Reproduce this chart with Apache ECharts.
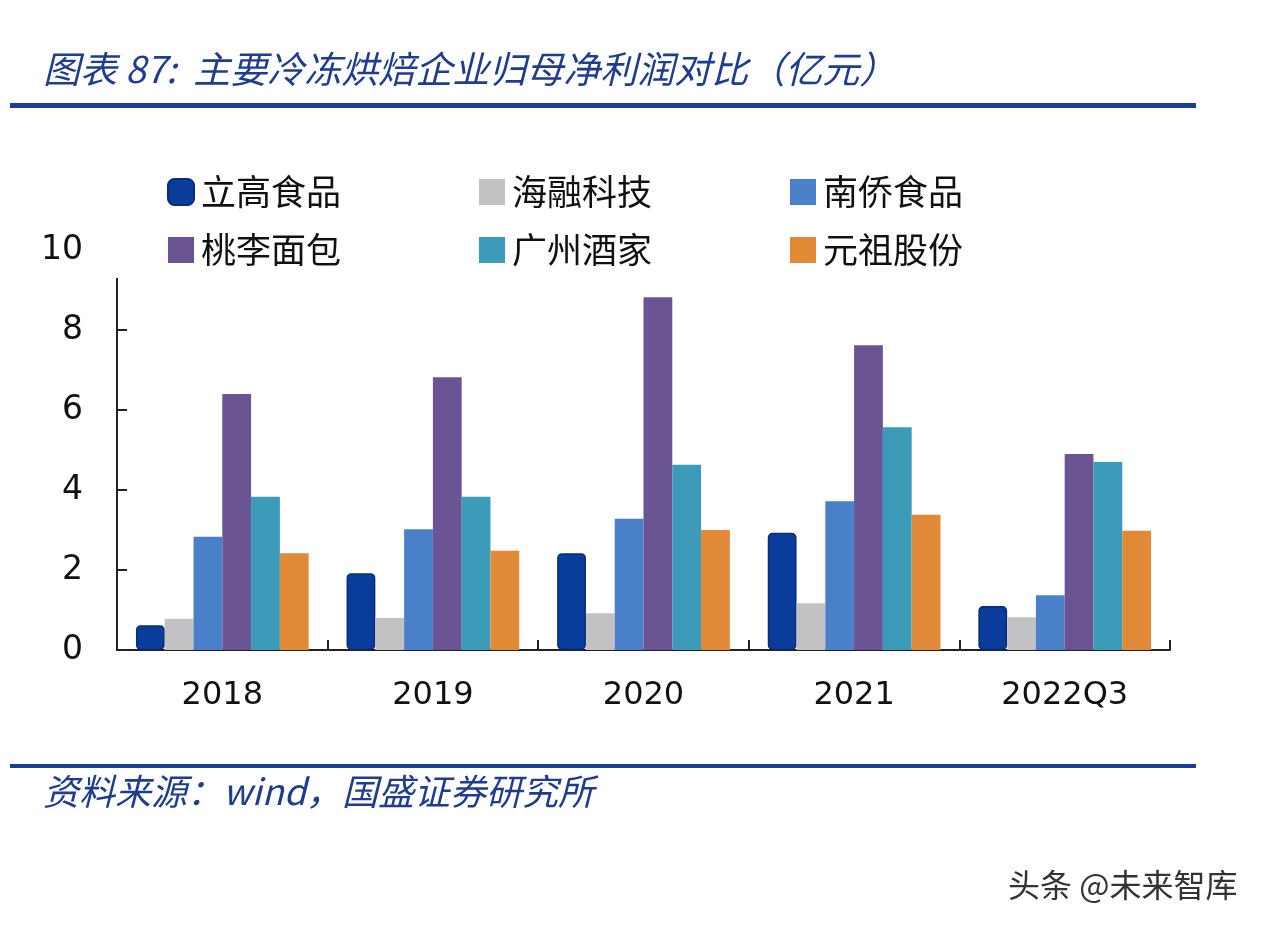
<!DOCTYPE html>
<html>
<head>
<meta charset="utf-8">
<script src="https://cdn.jsdelivr.net/npm/echarts@6/dist/echarts.min.js"></script>
<style>
html,body{margin:0;padding:0;background:#fff;}
#main{width:1264px;height:926px;}
</style>
</head>
<body>
<div id="main"></div>
<script>
var categories = ['2018', '2019', '2020', '2021', '2022Q3'];
var seriesNames = ['立高食品', '海融科技', '南侨食品', '桃李面包', '广州酒家', '元祖股份'];
var ligao   = [0.62, 1.92, 2.42, 2.93, 1.10];
var hairong = [0.78, 0.80, 0.92, 1.17, 0.82];
var nanqiao = [2.83, 3.02, 3.28, 3.72, 1.37];
var taoli   = [6.40, 6.82, 8.82, 7.62, 4.90];
var guangzhou = [3.83, 3.83, 4.63, 5.57, 4.70];
var yuanzu  = [2.42, 2.48, 3.00, 3.38, 2.98];
var yTicks = [0, 2, 4, 6, 8, 10];

var colors = ['#0a3c9c', '#c2c2c4', '#4a80c9', '#6b5494', '#3b9bb9', '#e08936'];
var values = [ligao, hairong, nanqiao, taoli, guangzhou, yuanzu];

var chart = echarts.init(document.getElementById('main'));
var series = seriesNames.map(function (n, i) {
  var s = {
    name: n,
    type: 'bar',
    data: values[i],
    barGap: '0%',
    barCategoryGap: '18%',
    itemStyle: { color: colors[i] }
  };
  if (i === 0) {
    s.itemStyle = { color: colors[0], borderColor: '#072c78', borderWidth: 1.5, borderRadius: 4 };
  }
  return s;
});

var option = {
  backgroundColor: '#ffffff',
  animation: false,
  color: colors,
  title: [{
    text: '图表 87:  主要冷冻烘焙企业归母净利润对比（亿元）',
    left: 38, top: 45,
    textStyle: { fontFamily: 'Noto Sans CJK SC', fontStyle: 'italic', fontWeight: 'normal', fontSize: 37, color: '#1f3c8f' }
  }, {
    text: '资料来源：wind，国盛证券研究所',
    left: 38, top: 768,
    textStyle: { fontFamily: 'Noto Sans CJK SC', fontStyle: 'italic', fontWeight: 'normal', fontSize: 36, color: '#1f3c8f' }
  }, {
    text: '头条 @未来智库',
    left: 1003, top: 864,
    textStyle: { fontFamily: 'Noto Sans CJK SC', fontWeight: 'normal', fontSize: 32, color: '#333333' }
  }],
  graphic: [
    { type: 'rect', shape: { x: 10, y: 103, width: 1186, height: 5 }, style: { fill: '#1a3d99' } },
    { type: 'rect', shape: { x: 10, y: 764, width: 1186, height: 4 }, style: { fill: '#1a3d99' } }
  ],
  legend: {
    left: 107, top: 166,
    width: 1000,
    padding: [6, 5, 8, 60],
    backgroundColor: '#ffffff',
    itemWidth: 26, itemHeight: 26,
    itemGap: 18,
    data: seriesNames.map(function (n, i) { return { name: n, icon: i === 0 ? 'roundRect' : 'rect' }; }),
    textStyle: { fontFamily: 'Noto Sans CJK SC', fontSize: 35, color: '#111', width: 260, lineHeight: 40, padding: [0, 0, 0, 2] }
  },
  grid: { left: 117, right: 94, top: 250, bottom: 276 },
  xAxis: {
    type: 'category',
    data: categories,
    axisLine: { lineStyle: { color: '#222', width: 2 } },
    axisTick: { show: true, inside: true, length: 10, lineStyle: { color: '#222', width: 2 } },
    axisLabel: { margin: 30, fontFamily: 'DejaVu Sans', fontSize: 32, color: '#111' }
  },
  yAxis: {
    type: 'value',
    min: 0, max: 10, interval: 2,
    splitLine: { show: false },
    axisLine: { show: true, lineStyle: { color: '#222', width: 2 } },
    axisTick: { show: true, inside: true, length: 10, lineStyle: { color: '#222', width: 2 } },
    axisLabel: { margin: 34, fontFamily: 'DejaVu Sans', fontSize: 33, color: '#111',
      formatter: function (v) { return yTicks.indexOf(v) >= 0 ? String(v) : ''; } }
  },
  series: series
};
chart.setOption(option);
</script>
</body>
</html>
